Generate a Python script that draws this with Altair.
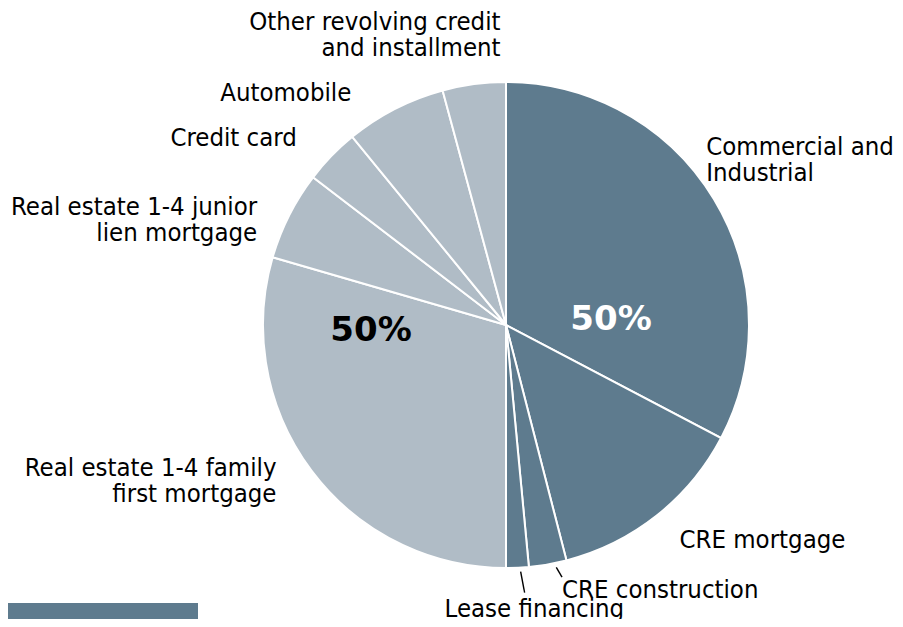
import altair as alt
import pandas as pd

# ---- data ----
categories = [
    "Commercial and Industrial",
    "CRE mortgage",
    "CRE construction",
    "Lease financing",
    "Real estate 1-4 family first mortgage",
    "Real estate 1-4 junior lien mortgage",
    "Credit card",
    "Automobile",
    "Other revolving credit and installment",
]
label_text = [
    "Commercial and\nIndustrial",
    "CRE mortgage",
    "CRE construction",
    "Lease financing",
    "Real estate 1-4 family\nfirst mortgage",
    "Real estate 1-4 junior\nlien mortgage",
    "Credit card",
    "Automobile",
    "Other revolving credit\nand installment",
]
shares = [32.7, 13.3, 2.5, 1.5, 29.5, 5.9, 3.7, 6.7, 4.2]
groups = ["Commercial", "Commercial", "Commercial", "Commercial",
          "Consumer", "Consumer", "Consumer", "Consumer", "Consumer"]
group_names = ["Commercial", "Consumer"]

# ---- styling / layout ----
DARK = "#5e7b8e"
LIGHT = "#b0bcc6"
FONT = "DejaVu Sans Condensed, DejaVu Sans"
W, H = 887, 611
CX, CY = 498, 317
R = 243
RL = 262

total = sum(shares)
df = pd.DataFrame({"idx": range(len(categories)), "category": categories,
                   "label": label_text, "share": shares, "group": groups})
df["start"] = df["share"].cumsum() - df["share"]
df["mid"] = df["start"] + df["share"] / 2

gdf = df.groupby("group", as_index=False).agg(share=("share", "sum"), start=("start", "min"))
gdf["mid"] = gdf["start"] + gdf["share"] / 2
gdf["text"] = (gdf["share"] / total * 100).round(0).astype(int).astype(str) + "%"

ang = f"2*PI*datum.mid/{total}"

arcs = alt.Chart(df).mark_arc(outerRadius=R, stroke="white", strokeWidth=2).encode(
    theta=alt.Theta("share:Q", stack=True),
    color=alt.Color("group:N", scale=alt.Scale(domain=group_names, range=[DARK, LIGHT]), legend=None),
    order=alt.Order("idx:Q"),
    x=alt.value(CX),
    y=alt.value(CY),
)

# per-label placement tweaks (align, dx, dy)
placement = {
    0: ("left", -24, -43),
    1: ("left", 11, 10),
    2: ("left", 11, 7),
    3: ("center", 16, 22),
    4: ("right", -20, -14),
    5: ("right", -15, 0),
    6: ("right", -21, -5),
    7: ("right", -35, 1),
    8: ("right", 29, -43),
}

labels = []
for i, (al, dx, dy) in placement.items():
    labels.append(
        alt.Chart(df).transform_filter(alt.datum.idx == i).transform_calculate(
            lx=f"{CX} + {RL}*sin({ang})", ly=f"{CY} - {RL}*cos({ang})"
        ).mark_text(align=al, baseline="middle", dx=dx, dy=dy, font=FONT, fontSize=25.5,
                    lineHeight=26, lineBreak="\n", color="black").encode(
            x=alt.X("lx:Q", scale=None, axis=None),
            y=alt.Y("ly:Q", scale=None, axis=None),
            text="label:N",
        )
    )

# leader lines
leaders = []
for i, r1, r2, xo, x2o in [(2, 246, 256, 8, 12), (3, 247, 268, 3, 6)]:
    leaders.append(
        alt.Chart(df).transform_filter(alt.datum.idx == i).transform_calculate(
            x1=f"{CX} + {r1}*sin({ang})", y1=f"{CY} - {r1}*cos({ang})",
            x2=f"{CX} + {r2}*sin({ang})", y2=f"{CY} - {r2}*cos({ang})",
        ).mark_rule(color="black", strokeWidth=1.4, xOffset=xo, x2Offset=x2o).encode(
            x=alt.X("x1:Q", scale=None, axis=None), y=alt.Y("y1:Q", scale=None, axis=None),
            x2="x2:Q", y2="y2:Q",
        )
    )

# group totals
gl = []
for g, rr, dy, col in [("Commercial", 105, -5, "white"), ("Consumer", 135, 6, "black")]:
    gl.append(
        alt.Chart(gdf).transform_filter(alt.datum.group == g).transform_calculate(
            lx=f"{CX} + {rr}*sin({ang})", ly=f"{CY} - {rr}*cos({ang})"
        ).mark_text(align="center", baseline="middle", dy=dy, font="DejaVu Sans", fontWeight="bold",
                    fontSize=34, color=col).encode(
            x=alt.X("lx:Q", scale=None, axis=None),
            y=alt.Y("ly:Q", scale=None, axis=None),
            text="text:N",
        )
    )

footer = alt.Chart(pd.DataFrame({"a": [0]})).mark_rect(color=DARK).encode(
    x=alt.value(0), x2=alt.value(190), y=alt.value(595), y2=alt.value(H)
)

chart = alt.layer(arcs, *leaders, *labels, *gl, footer).properties(
    width=W, height=H, autosize=alt.AutoSizeParams(type="none"), padding=0,
    background="white",
).configure_view(stroke=None)

chart.save("out.html", embed_options={"renderer": "svg", "actions": False})
